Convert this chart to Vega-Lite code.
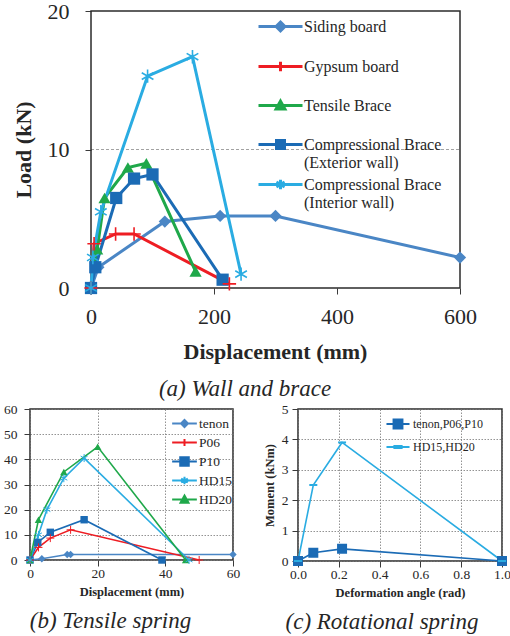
{
  "$schema": "https://vega.github.io/schema/vega-lite/v6.json",
  "padding": {"left": 2, "top": 0, "right": 0, "bottom": 0},
  "background": "white",
  "config": {
    "font": "Liberation Serif",
    "view": {"stroke": "#2b2b2b", "strokeWidth": 1.5},
    "axis": {"domain": false, "tickColor": "#3a3a3a", "labelColor": "#262626", "titleColor": "#262626", "labelFont": "Liberation Serif", "titleFont": "Liberation Serif", "titleFontWeight": "bold", "labelFlush": false, "labelOverlap": false},
    "legend": {"labelFont": "Liberation Serif", "labelColor": "#262626", "padding": 0, "rowPadding": 0, "titlePadding": 0, "labelLimit": 400}
  },
  "datasets": {
    "wall": [
      {"series": "Siding board", "x": 0, "y": 0},
      {"series": "Siding board", "x": 12, "y": 1.5},
      {"series": "Siding board", "x": 120, "y": 4.8},
      {"series": "Siding board", "x": 210, "y": 5.2},
      {"series": "Siding board", "x": 300, "y": 5.2},
      {"series": "Siding board", "x": 600, "y": 2.2},
      {"series": "Gypsum board", "x": 0, "y": 0},
      {"series": "Gypsum board", "x": 5, "y": 3.2},
      {"series": "Gypsum board", "x": 40, "y": 3.9},
      {"series": "Gypsum board", "x": 70, "y": 3.9},
      {"series": "Gypsum board", "x": 225, "y": 0.3},
      {"series": "Tensile Brace", "x": 0, "y": 0},
      {"series": "Tensile Brace", "x": 10, "y": 2.8},
      {"series": "Tensile Brace", "x": 22, "y": 6.5},
      {"series": "Tensile Brace", "x": 60, "y": 8.7},
      {"series": "Tensile Brace", "x": 90, "y": 9.0},
      {"series": "Tensile Brace", "x": 170, "y": 1.2},
      {"series": "Compressional Brace (Exterior wall)", "x": 0, "y": 0},
      {"series": "Compressional Brace (Exterior wall)", "x": 7, "y": 1.5},
      {"series": "Compressional Brace (Exterior wall)", "x": 41, "y": 6.5},
      {"series": "Compressional Brace (Exterior wall)", "x": 70, "y": 7.9},
      {"series": "Compressional Brace (Exterior wall)", "x": 100, "y": 8.2},
      {"series": "Compressional Brace (Exterior wall)", "x": 214, "y": 0.6},
      {"series": "Compressional Brace (Interior wall)", "x": 0, "y": 0},
      {"series": "Compressional Brace (Interior wall)", "x": 3, "y": 2.2},
      {"series": "Compressional Brace (Interior wall)", "x": 16, "y": 5.5},
      {"series": "Compressional Brace (Interior wall)", "x": 92, "y": 15.3},
      {"series": "Compressional Brace (Interior wall)", "x": 165, "y": 16.7},
      {"series": "Compressional Brace (Interior wall)", "x": 244, "y": 1.0}
    ],
    "tensile": [
      {"series": "tenon", "x": 0, "y": 0},
      {"series": "tenon", "x": 3.5, "y": 0.5},
      {"series": "tenon", "x": 11, "y": 2.2},
      {"series": "tenon", "x": 12, "y": 2.2},
      {"series": "tenon", "x": 60, "y": 2.2},
      {"series": "P06", "x": 0, "y": 0},
      {"series": "P06", "x": 2.5, "y": 5},
      {"series": "P06", "x": 6, "y": 8.7},
      {"series": "P06", "x": 12, "y": 12},
      {"series": "P06", "x": 50, "y": 0},
      {"series": "P10", "x": 0, "y": 0},
      {"series": "P10", "x": 2.3, "y": 7},
      {"series": "P10", "x": 6, "y": 11},
      {"series": "P10", "x": 16, "y": 16},
      {"series": "P10", "x": 39, "y": 0},
      {"series": "HD15", "x": 0, "y": 0},
      {"series": "HD15", "x": 2.5, "y": 10},
      {"series": "HD15", "x": 5, "y": 20},
      {"series": "HD15", "x": 10, "y": 32.5},
      {"series": "HD15", "x": 16, "y": 40.5},
      {"series": "HD15", "x": 47, "y": 0},
      {"series": "HD20", "x": 0, "y": 0},
      {"series": "HD20", "x": 2.5, "y": 16},
      {"series": "HD20", "x": 10, "y": 35},
      {"series": "HD20", "x": 20, "y": 45},
      {"series": "HD20", "x": 46, "y": 0}
    ],
    "rot": [
      {"series": "tenon,P06,P10", "x": 0, "y": 0},
      {"series": "tenon,P06,P10", "x": 0.075, "y": 0.27},
      {"series": "tenon,P06,P10", "x": 0.216, "y": 0.4},
      {"series": "tenon,P06,P10", "x": 1.0, "y": 0},
      {"series": "HD15,HD20", "x": 0, "y": 0},
      {"series": "HD15,HD20", "x": 0.075, "y": 2.5},
      {"series": "HD15,HD20", "x": 0.216, "y": 3.9},
      {"series": "HD15,HD20", "x": 1.0, "y": 0}
    ]
  },
  "spacing": 0,
  "resolve": {"scale": {"color": "independent", "shape": "independent", "fill": "independent", "stroke": "independent"}},
  "vconcat": [
    {
      "width": 430,
      "height": 277,
      "view": {"stroke": null},
      "title": {"text": "(a) Wall and brace", "orient": "bottom", "font": "Liberation Serif", "fontSize": 23, "fontStyle": "italic", "fontWeight": "normal", "color": "#262626", "offset": 16},
      "data": {"name": "wall"},
      "resolve": {"scale": {"shape": "independent", "fill": "independent", "stroke": "independent"}},
      "layer": [
        {
          "data": {"values": [{}]},
          "mark": {"type": "rule", "stroke": "#8a8a8a", "strokeWidth": 0.8, "strokeDash": [3, 2]},
          "encoding": {"x": {"datum": 0}, "x2": {"datum": 600}, "y": {"datum": 10}}
        },
        {
          "data": {"values": [{}]},
          "mark": {"type": "rect", "fillOpacity": 0, "stroke": "#2b2b2b", "strokeWidth": 1.5},
          "encoding": {"x": {"datum": 0}, "x2": {"datum": 600}, "y": {"datum": 0}, "y2": {"datum": 20}}
        },
        {
          "mark": {"type": "line", "strokeWidth": 3},
          "encoding": {
            "x": {"field": "x", "type": "quantitative", "scale": {"domain": [-99.2, 600], "nice": false, "zero": false},
                  "axis": {"values": [0, 200, 400, 600], "title": "Displacement (mm)", "labelFontSize": 22, "titleFontSize": 22, "tickSize": 6, "labelPadding": 12, "titlePadding": 14, "titleX": 245, "gridDash": [3, 2], "gridColor": "#8a8a8a", "gridWidth": 0.8}},
            "y": {"field": "y", "type": "quantitative", "scale": {"domain": [0, 20], "nice": false},
                  "axis": {"values": [0, 10, 20], "title": "Load (kN)", "offset": -61, "grid": false, "labelFontSize": 22, "titleFontSize": 22, "tickSize": 6, "labelPadding": 16, "titlePadding": 12}},
            "color": {"field": "series", "type": "nominal", "legend": null,
                      "scale": {"domain": ["Siding board", "Gypsum board", "Tensile Brace", "Compressional Brace (Exterior wall)", "Compressional Brace (Interior wall)"],
                                "range": ["#4a86c5", "#ee1d23", "#1fa84a", "#1b6bb5", "#2aace2"]}}
          }
        },
        {
          "transform": [{"filter": "indexof(['Gypsum board','Compressional Brace (Interior wall)'], datum.series) < 0"}],
          "mark": {"type": "point", "filled": true, "opacity": 1},
          "encoding": {
            "x": {"field": "x", "type": "quantitative"},
            "y": {"field": "y", "type": "quantitative"},
            "color": {"field": "series", "type": "nominal", "legend": null},
            "shape": {"field": "series", "type": "nominal", "legend": null,
                      "scale": {"domain": ["Siding board", "Tensile Brace", "Compressional Brace (Exterior wall)"], "range": ["diamond", "triangle-up", "square"]}},
            "size": {"value": 150}
          }
        },
        {
          "transform": [{"filter": "indexof(['Gypsum board','Compressional Brace (Interior wall)'], datum.series) >= 0"}],
          "mark": {"type": "point", "filled": false, "opacity": 1, "strokeWidth": 1.6},
          "encoding": {
            "x": {"field": "x", "type": "quantitative"},
            "y": {"field": "y", "type": "quantitative"},
            "color": {"field": "series", "type": "nominal", "legend": null},
            "shape": {"field": "series", "type": "nominal", "legend": null,
                      "scale": {"domain": ["Gypsum board", "Compressional Brace (Interior wall)"], "range": ["M-1,0H1M0,-1V1", "M0,-1V1M-0.87,-0.5L0.87,0.5M-0.87,0.5L0.87,-0.5"]}},
            "size": {"value": 180}
          }
        },
        {
          "transform": [{"filter": "false"}],
          "mark": {"type": "point", "opacity": 1, "strokeWidth": 3},
          "encoding": {
            "x": {"field": "x", "type": "quantitative"},
            "y": {"field": "y", "type": "quantitative"},
            "fill": {"field": "series", "type": "nominal",
                     "scale": {"domain": ["Siding board", "Gypsum board", "Tensile Brace", "Compressional Brace (Exterior wall)", "Compressional Brace (Interior wall)"],
                               "range": ["#4a86c5", "#ee1d23", "#1fa84a", "#1b6bb5", "#2aace2"]}},
            "stroke": {"field": "series", "type": "nominal",
                       "scale": {"domain": ["Siding board", "Gypsum board", "Tensile Brace", "Compressional Brace (Exterior wall)", "Compressional Brace (Interior wall)"],
                                 "range": ["#4a86c5", "#ee1d23", "#1fa84a", "#1b6bb5", "#2aace2"]}},
            "shape": {"field": "series", "type": "nominal",
                      "scale": {"domain": ["Siding board", "Gypsum board", "Tensile Brace", "Compressional Brace (Exterior wall)", "Compressional Brace (Interior wall)"],
                                "range": [
                                  "M-2.75,0H2.75M0,-0.55L0.55,0L0,0.55L-0.55,0ZM0,2.72",
                                  "M-2.75,0H2.75M0,-0.6V0.6M0,2.72",
                                  "M-2.75,0H2.75M0,-0.55L0.55,0.45L-0.55,0.45ZM0,2.72",
                                  "M-2.75,0H2.75M-0.5,-0.5H0.5V0.5H-0.5ZM0,2.72",
                                  "M-2.75,0H2.75M0,-0.6V0.6M-0.52,-0.3L0.52,0.3M-0.52,0.3L0.52,-0.3M0,2.72"
                                ]},
                      "legend": {"orient": "none", "legendX": 241, "legendY": 6, "title": null, "symbolSize": 256, "symbolStrokeWidth": 3, "labelFontSize": 16, "labelLineHeight": 18, "labelOffset": 14, "labelBaseline": "middle",
                                 "labelExpr": "datum.label == 'Compressional Brace (Exterior wall)' ? ['Compressional Brace', '(Exterior wall)'] : datum.label == 'Compressional Brace (Interior wall)' ? ['Compressional Brace', '(Interior wall)'] : datum.label"}}
          }
        }
      ]
    },
    {
      "spacing": 21,
      "resolve": {"scale": {"color": "independent", "shape": "independent", "fill": "independent", "stroke": "independent"}},
      "hconcat": [
        {
          "width": 203,
          "height": 151,
          "title": {"text": "(b) Tensile spring", "orient": "bottom", "font": "Liberation Serif", "fontSize": 23, "fontStyle": "italic", "fontWeight": "normal", "color": "#262626", "offset": 12, "dx": -21},
          "data": {"name": "tensile"},
          "encoding": {
            "x": {"field": "x", "type": "quantitative", "scale": {"domain": [0, 60], "nice": false},
                  "axis": {"values": [0, 20, 40, 60], "title": "Displacement (mm)", "labelFontSize": 13.5, "titleFontSize": 12.5, "tickSize": 6, "labelPadding": 0, "titlePadding": 6, "gridDash": [1.5, 1.5], "gridColor": "#777777", "gridWidth": 0.8}},
            "y": {"field": "y", "type": "quantitative", "scale": {"domain": [0, 60], "nice": false},
                  "axis": {"values": [0, 10, 20, 30, 40, 50, 60], "title": null, "labelFontSize": 13.5, "tickSize": 6, "labelPadding": 7, "gridDash": [1.5, 1.5], "gridColor": "#777777", "gridWidth": 0.8}}
          },
          "resolve": {"scale": {"shape": "independent", "fill": "independent", "stroke": "independent"}},
          "layer": [
            {
              "mark": {"type": "line", "strokeWidth": 1.6},
              "encoding": {
                "color": {"field": "series", "type": "nominal", "legend": null,
                          "scale": {"domain": ["tenon", "P06", "P10", "HD15", "HD20"], "range": ["#4a86c5", "#ee1d23", "#1b6bb5", "#2aace2", "#1fa84a"]}}
              }
            },
            {
              "transform": [{"filter": "indexof(['P06','HD15'], datum.series) < 0"}],
              "mark": {"type": "point", "filled": true, "opacity": 1},
              "encoding": {
                "color": {"field": "series", "type": "nominal", "legend": null,
                          "scale": {"domain": ["tenon", "P06", "P10", "HD15", "HD20"], "range": ["#4a86c5", "#ee1d23", "#1b6bb5", "#2aace2", "#1fa84a"]}},
                "shape": {"field": "series", "type": "nominal", "legend": null,
                          "scale": {"domain": ["tenon", "P10", "HD20"], "range": ["diamond", "square", "triangle-up"]}},
                "size": {"value": 55}
              }
            },
            {
              "transform": [{"filter": "indexof(['P06','HD15'], datum.series) >= 0"}],
              "mark": {"type": "point", "filled": false, "opacity": 1, "strokeWidth": 1},
              "encoding": {
                "color": {"field": "series", "type": "nominal", "legend": null,
                          "scale": {"domain": ["tenon", "P06", "P10", "HD15", "HD20"], "range": ["#4a86c5", "#ee1d23", "#1b6bb5", "#2aace2", "#1fa84a"]}},
                "shape": {"field": "series", "type": "nominal", "legend": null,
                          "scale": {"domain": ["P06", "HD15"], "range": ["M-1,0H1M0,-1V1", "M0,-1V1M-0.87,-0.5L0.87,0.5M-0.87,0.5L0.87,-0.5"]}},
                "size": {"value": 64}
              }
            },
            {
              "transform": [{"filter": "false"}],
              "mark": {"type": "point", "opacity": 1, "strokeWidth": 2},
              "encoding": {
                "fill": {"field": "series", "type": "nominal",
                         "scale": {"domain": ["tenon", "P06", "P10", "HD15", "HD20"], "range": ["#4a86c5", "#ee1d23", "#1b6bb5", "#2aace2", "#1fa84a"]}},
                "stroke": {"field": "series", "type": "nominal",
                           "scale": {"domain": ["tenon", "P06", "P10", "HD15", "HD20"], "range": ["#4a86c5", "#ee1d23", "#1b6bb5", "#2aace2", "#1fa84a"]}},
                "shape": {"field": "series", "type": "nominal",
                          "scale": {"domain": ["tenon", "P06", "P10", "HD15", "HD20"],
                                    "range": [
                                      "M-1.3,0H1.3M0,-0.37L0.37,0L0,0.37L-0.37,0Z",
                                      "M-1.3,0H1.3M0,-0.37V0.37",
                                      "M-1.3,0H1.3M-0.45,-0.45H0.45V0.45H-0.45Z",
                                      "M-1.3,0H1.3M0,-0.4V0.4M-0.35,-0.2L0.35,0.2M-0.35,0.2L0.35,-0.2",
                                      "M-1.3,0H1.3M0,-0.42L0.42,0.35L-0.42,0.35Z"
                                    ]},
                          "legend": {"orient": "none", "legendX": 144, "legendY": 4, "title": null, "symbolSize": 361, "symbolStrokeWidth": 2, "labelFontSize": 13.5, "labelOffset": 4, "labelBaseline": "middle"}}
              }
            }
          ]
        },
        {
          "width": 204,
          "height": 152,
          "title": {"text": "(c) Rotational spring", "orient": "bottom", "font": "Liberation Serif", "fontSize": 23, "fontStyle": "italic", "fontWeight": "normal", "color": "#262626", "offset": 12, "dx": -18},
          "data": {"name": "rot"},
          "encoding": {
            "x": {"field": "x", "type": "quantitative", "scale": {"domain": [0, 1], "nice": false},
                  "axis": {"values": [0, 0.2, 0.4, 0.6, 0.8, 1.0], "format": ".1f", "title": "Deformation angle (rad)", "labelFontSize": 13.5, "titleFontSize": 12.5, "tickSize": 6, "labelPadding": 0, "titlePadding": 6, "gridDash": [1.5, 1.5], "gridColor": "#777777", "gridWidth": 0.8}},
            "y": {"field": "y", "type": "quantitative", "scale": {"domain": [0, 5], "nice": false},
                  "axis": {"values": [0, 1, 2, 3, 4, 5], "title": "Moment (kNm)", "labelFontSize": 13.5, "titleFontSize": 12.5, "tickSize": 6, "labelPadding": 4, "titlePadding": 5, "gridDash": [1.5, 1.5], "gridColor": "#777777", "gridWidth": 0.8}}
          },
          "resolve": {"scale": {"shape": "independent", "fill": "independent", "stroke": "independent"}},
          "layer": [
            {
              "mark": {"type": "line", "strokeWidth": 1.6},
              "encoding": {
                "color": {"field": "series", "type": "nominal", "legend": null,
                          "scale": {"domain": ["tenon,P06,P10", "HD15,HD20"], "range": ["#1b6bb5", "#2aace2"]}}
              }
            },
            {
              "mark": {"type": "point", "filled": true, "opacity": 1, "strokeWidth": 2},
              "encoding": {
                "color": {"field": "series", "type": "nominal", "legend": null,
                          "scale": {"domain": ["tenon,P06,P10", "HD15,HD20"], "range": ["#1b6bb5", "#2aace2"]}},
                "stroke": {"field": "series", "type": "nominal", "legend": null,
                           "scale": {"domain": ["tenon,P06,P10", "HD15,HD20"], "range": ["#1b6bb5", "#2aace2"]}},
                "shape": {"field": "series", "type": "nominal", "legend": null,
                          "scale": {"domain": ["tenon,P06,P10", "HD15,HD20"], "range": ["square", "M-1,0H1"]}},
                "size": {"value": 64}
              }
            },
            {
              "transform": [{"filter": "false"}],
              "mark": {"type": "point", "opacity": 1, "strokeWidth": 2},
              "encoding": {
                "fill": {"field": "series", "type": "nominal",
                         "scale": {"domain": ["tenon,P06,P10", "HD15,HD20"], "range": ["#1b6bb5", "#2aace2"]}},
                "stroke": {"field": "series", "type": "nominal",
                           "scale": {"domain": ["tenon,P06,P10", "HD15,HD20"], "range": ["#1b6bb5", "#2aace2"]}},
                "shape": {"field": "series", "type": "nominal",
                          "scale": {"domain": ["tenon,P06,P10", "HD15,HD20"],
                                    "range": [
                                      "M-0.96,0H0.96M-0.37,-0.37H0.37V0.37H-0.37ZM0,0.5",
                                      "M-0.96,0H0.96M-0.3,-0.08H0.3V0.08H-0.3ZM0,0.5"
                                    ]},
                          "legend": {"orient": "none", "legendX": 87, "legendY": 2, "title": null, "symbolSize": 576, "symbolStrokeWidth": 2, "labelFontSize": 12, "labelOffset": 2, "labelBaseline": "middle"}}
              }
            }
          ]
        }
      ]
    }
  ]
}
